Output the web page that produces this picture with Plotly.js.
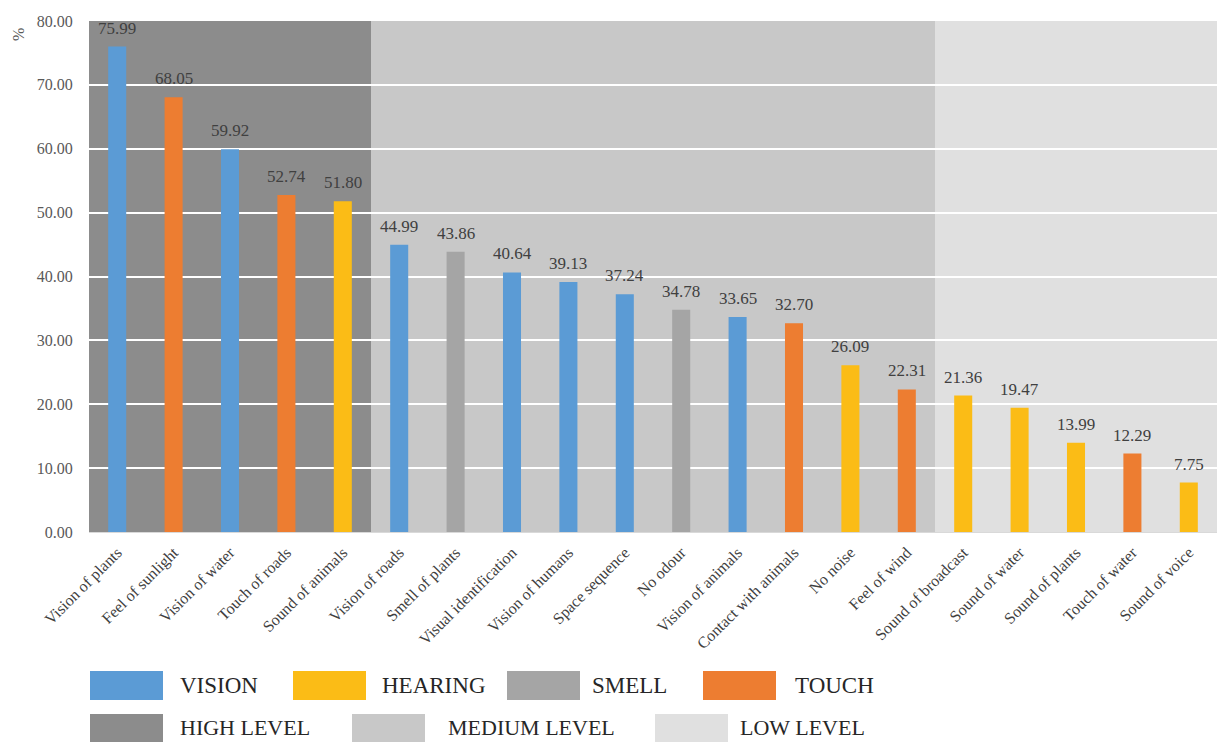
<!DOCTYPE html>
<html>
<head>
<meta charset="utf-8">
<script src="https://cdn.plot.ly/plotly-3.0.1.min.js"></script>
<style>html,body{margin:0;padding:0;background:#fff;}#chart{width:1217px;height:742px;}</style>
</head>
<body>
<div id="chart"></div>
<script>
var categories = ["Vision of plants","Feel of sunlight","Vision of water","Touch of roads","Sound of animals","Vision of roads","Smell of plants","Visual identification","Vision of humans","Space sequence","No odour","Vision of animals","Contact with animals","No noise","Feel of wind","Sound of broadcast","Sound of water","Sound of plants","Touch of water","Sound of voice"];
var values = [75.99,68.05,59.92,52.74,51.80,44.99,43.86,40.64,39.13,37.24,34.78,33.65,32.70,26.09,22.31,21.36,19.47,13.99,12.29,7.75];
var senses = ["VISION","TOUCH","VISION","TOUCH","HEARING","VISION","SMELL","VISION","VISION","VISION","SMELL","VISION","TOUCH","HEARING","TOUCH","HEARING","HEARING","HEARING","TOUCH","HEARING"];
var senseNames = ["VISION","HEARING","SMELL","TOUCH"];
var levelNames = ["HIGH LEVEL","MEDIUM LEVEL","LOW LEVEL"];
var levelStart = [0,5,15];
var levelEnd = [4,14,19];
var yTicks = [0,10,20,30,40,50,60,70,80];

var senseColors = {"VISION":"#5b9bd5","HEARING":"#fbbc16","SMELL":"#a5a5a5","TOUCH":"#ed7d31"};
var levelColors = ["#8c8c8c","#c8c8c8","#e0e0e0"];

var W = 1217, H = 742, L = 89, R = 1217, T = 21, B = 532;
function px(x){ return (x - L) / (R - L); }
function py(y){ return (B - y) / (B - T); }

var serif = "Liberation Serif, Times New Roman, serif";

var trace = {
  type: "bar",
  x: categories,
  y: values,
  marker: {color: senses.map(function(s){return senseColors[s];})},
  hoverinfo: "x+y"
};

var shapes = [];
for (var i = 0; i < levelNames.length; i++) {
  shapes.push({type:"rect", xref:"x", yref:"paper", x0: levelStart[i]-0.5, x1: levelEnd[i]+0.5, y0:0, y1:1, fillcolor: levelColors[i], line:{width:0}, layer:"below"});
}

var annotations = [];
for (var j = 0; j < categories.length; j++) {
  annotations.push({x: categories[j], y: values[j], xref:"x", yref:"y", text: values[j].toFixed(2), showarrow:false, yanchor:"bottom", yshift:7, font:{family:serif, size:17, color:"#404040"}});
}
annotations.push({xref:"paper", yref:"paper", x: px(18), y: py(35), text:"%", textangle:-90, showarrow:false, xanchor:"center", yanchor:"middle", font:{family:serif, size:16, color:"#595959"}});

// legend (custom)
var senseBoxX = [90, 293, 507, 703];
var senseTextX = [178, 380, 590, 793];
var levelBoxX = [90, 352, 655];
var levelTextX = [178, 446, 738];
for (var k = 0; k < senseNames.length; k++) {
  shapes.push({type:"rect", xref:"paper", yref:"paper", x0: px(senseBoxX[k]), x1: px(senseBoxX[k]+73), y0: py(700), y1: py(671), fillcolor: senseColors[senseNames[k]], line:{width:0}});
  annotations.push({xref:"paper", yref:"paper", x: px(senseTextX[k]), y: py(686), text: senseNames[k], showarrow:false, xanchor:"left", yanchor:"middle", font:{family:serif, size:23, color:"#262626"}});
}
for (var m = 0; m < levelNames.length; m++) {
  shapes.push({type:"rect", xref:"paper", yref:"paper", x0: px(levelBoxX[m]), x1: px(levelBoxX[m]+73), y0: py(745), y1: py(714), fillcolor: levelColors[m], line:{width:0}});
  annotations.push({xref:"paper", yref:"paper", x: px(levelTextX[m]), y: py(727), text: levelNames[m], showarrow:false, xanchor:"left", yanchor:"middle", font:{family:serif, size:22, color:"#262626"}});
}

var layout = {
  width: W, height: H,
  margin: {l: L, r: W - R, t: T, b: H - B, pad: 0},
  paper_bgcolor: "#ffffff",
  plot_bgcolor: "rgba(0,0,0,0)",
  showlegend: false,
  bargap: 0.68,
  xaxis: {
    type: "category",
    tickangle: -45,
    tickfont: {family: serif, size: 16, color: "#404040"},
    showgrid: false,
    showline: true, linecolor: "#d9d9d9", linewidth: 1,
    ticks: "outside", ticklen: 4, tickcolor: "rgba(0,0,0,0)", fixedrange: true
  },
  yaxis: {
    range: [0, 80],
    tickvals: yTicks,
    ticktext: yTicks.map(function(v){return v.toFixed(2);}),
    tickfont: {family: serif, size: 16, color: "#595959"},
    showgrid: true, gridcolor: "#ffffff", gridwidth: 2,
    zeroline: false, showline: false,
    ticks: "outside", ticklen: 12, tickcolor: "rgba(0,0,0,0)",
    fixedrange: true
  },
  shapes: shapes,
  annotations: annotations
};

Plotly.newPlot("chart", [trace], layout, {displayModeBar: false, staticPlot: true});
</script>
</body>
</html>
